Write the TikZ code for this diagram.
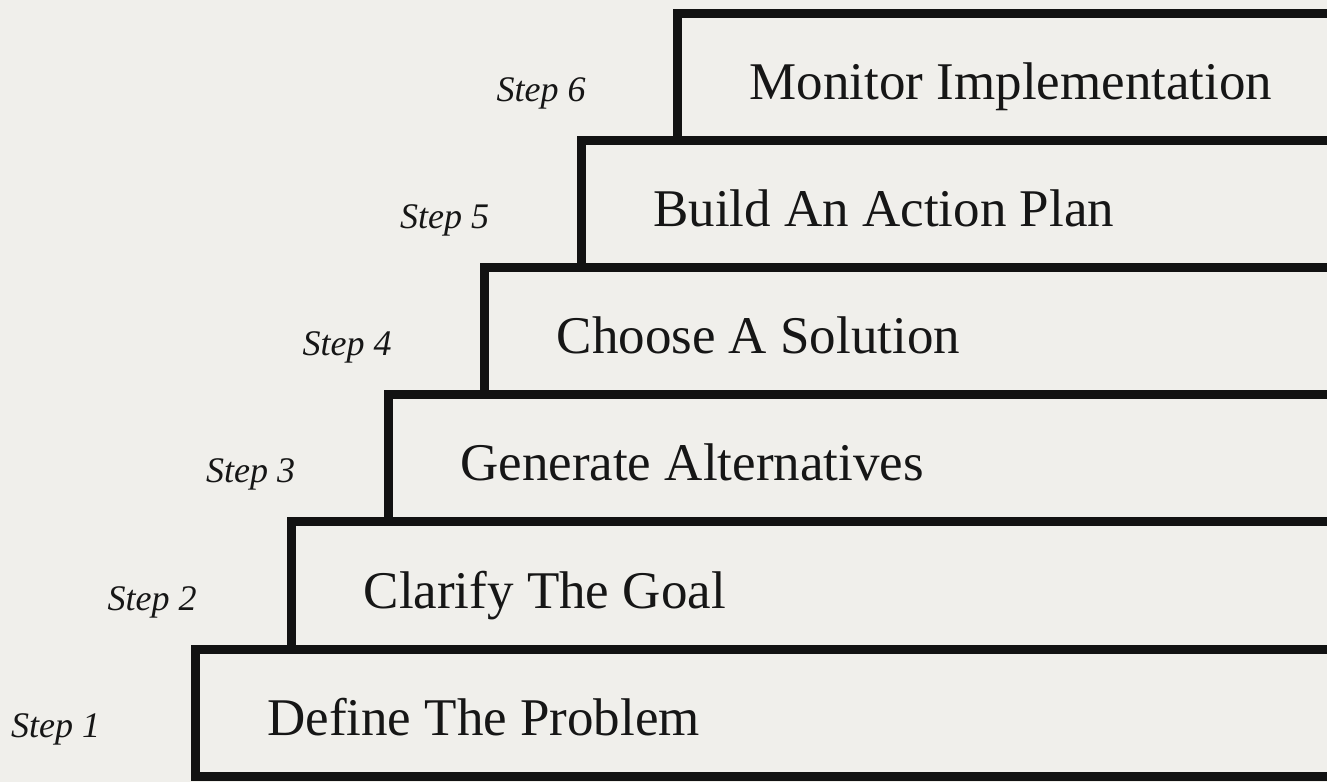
\documentclass[tikz,border=0pt]{standalone}
\usepackage{fontspec}
\setmainfont{Liberation Serif}
\usetikzlibrary{positioning}
\definecolor{paperFill}{HTML}{F0EFEB}
\definecolor{stepStroke}{HTML}{121212}
\definecolor{stepInk}{HTML}{161616}

\begin{document}
\begin{tikzpicture}[
  x=1pt, y=1pt,
  stepbox/.style={draw=stepStroke, fill=paperFill, line width=9pt, outer sep=0pt, inner sep=0pt,
                  minimum width=1200pt, minimum height=127pt, anchor=south west},
  steptext/.style={font=\fontsize{53}{60}\selectfont, text=stepInk, anchor=base west, inner sep=0pt},
  steplbl/.style={font=\fontsize{36}{42}\selectfont\itshape, text=stepInk, anchor=base west, inner sep=0pt}
]

% ============ PAPER ============
\fill[paperFill] (0,0) rectangle (1327,782);
\useasboundingbox (0,0) rectangle (1327,782);
\clip (0,0) rectangle (1327,782);

% ============ STAIRS (each box runs off the right edge) ============
\node[stepbox] (box1) at (195,6) {};
\node[stepbox] (box2) at ([xshift=96.5pt]box1.north west) {};
\node[stepbox] (box3) at ([xshift=96.5pt]box2.north west) {};
\node[stepbox] (box4) at ([xshift=96.5pt]box3.north west) {};
\node[stepbox] (box5) at ([xshift=96.5pt]box4.north west) {};
\node[stepbox] (box6) at ([xshift=96.5pt]box5.north west) {};

% ============ STEP TEXTS ============
\node[steptext] (txt1) at ([shift={(72pt,41pt)}]box1.south west) {Define The Problem};
\node[steptext] (txt2) at ([shift={(72pt,41pt)}]box2.south west) {Clarify The Goal};
\node[steptext] (txt3) at ([shift={(72pt,41pt)}]box3.south west) {Generate Alternatives};
\node[steptext] (txt4) at ([shift={(72pt,41pt)}]box4.south west) {Choose A Solution};
\node[steptext] (txt5) at ([shift={(72pt,41pt)}]box5.south west) {Build An Action Plan};
\node[steptext] (txt6) at ([shift={(72pt,41pt)}]box6.south west) {Monitor Implementation};

% ============ STEP NUMBERS (left of each riser) ============
\node[steplbl] (lbl1) at ([shift={(-184pt,39pt)}]box1.south west) {Step 1};
\node[steplbl] (lbl2) at ([shift={(-184pt,39pt)}]box2.south west) {Step 2};
\node[steplbl] (lbl3) at ([shift={(-182pt,39pt)}]box3.south west) {Step 3};
\node[steplbl] (lbl4) at ([shift={(-182pt,39pt)}]box4.south west) {Step 4};
\node[steplbl] (lbl5) at ([shift={(-181pt,39pt)}]box5.south west) {Step 5};
\node[steplbl] (lbl6) at ([shift={(-181pt,39pt)}]box6.south west) {Step 6};

\end{tikzpicture}
\end{document}
